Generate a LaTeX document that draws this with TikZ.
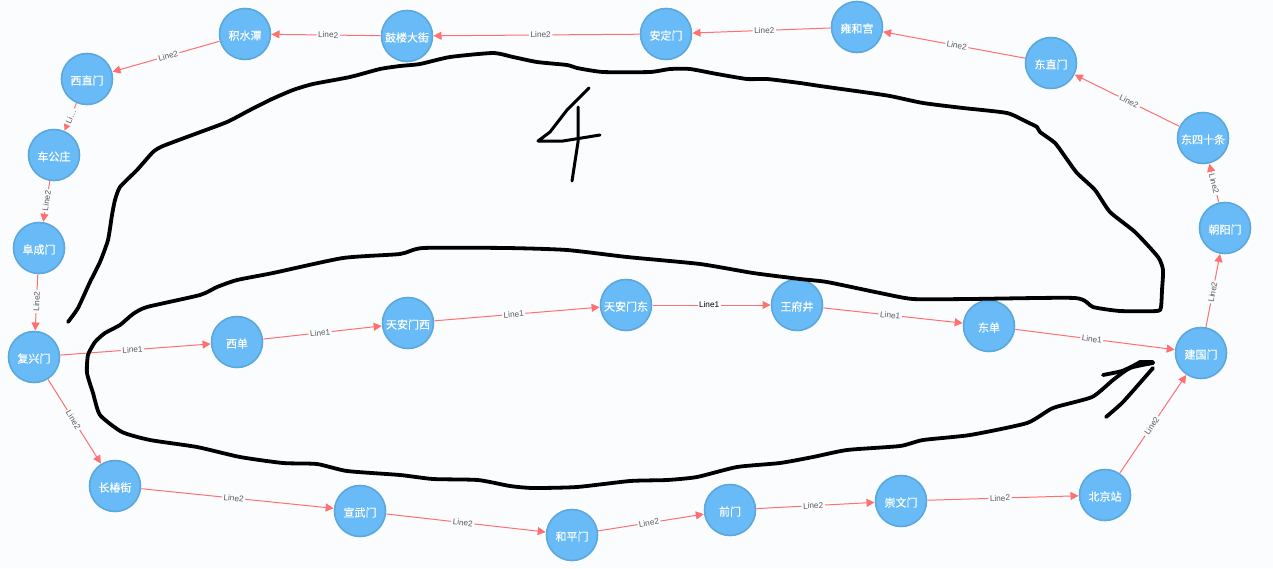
\documentclass[tikz,border=0pt]{standalone}
\usepackage{fontspec}
\setmainfont{Liberation Sans}
\newfontfamily\cjk[FakeBold=0.35]{Noto Sans CJK SC}
\usetikzlibrary{arrows.meta}
\definecolor{bgc}{HTML}{FBFCFE}
\definecolor{nodefill}{HTML}{68BBF6}
\definecolor{nodeline}{HTML}{5CA8DC}
\definecolor{edgec}{HTML}{FF7070}
\definecolor{labelc}{HTML}{5A5A5A}
\tikzset{
  st/.style={circle,minimum size=51pt,inner sep=0pt,outer sep=1pt,fill=nodefill,draw=nodeline,line width=1.6pt,text=white,text height=12.7pt,text depth=1.3pt,font=\cjk\fontsize{11}{11}\selectfont},
  link/.style={draw=edgec,line width=1pt,-{Triangle[length=8pt,width=8pt]}},
  lab/.style={pos=0.48,sloped,fill=bgc,inner sep=1.6pt,text=labelc,font=\fontsize{8.2}{8.2}\selectfont},
  pen/.style={black,line width=3.8pt,line cap=round,line join=round}
}
\begin{document}
\begin{tikzpicture}[x=1pt,y=-1pt]
\path[use as bounding box,fill=bgc] (0,0) rectangle (1273,568);
\node[st] (jishuitan) at (245,34) {积水潭};
\node[st] (gulou) at (407,36) {鼓楼大街};
\node[st] (anding) at (666,34) {安定门};
\node[st] (yonghe) at (857,27) {雍和宫};
\node[st] (dongzhi) at (1051,63) {东直门};
\node[st] (dongsi) at (1203,138) {东四十条};
\node[st] (chaoyang) at (1225,228) {朝阳门};
\node[st] (jianguo) at (1201,353) {建国门};
\node[st] (dongdan) at (989,326) {东单};
\node[st] (wangfu) at (797,305) {王府井};
\node[st] (tiandong) at (626,305) {天安门东};
\node[st] (tianxi) at (408,323) {天安门西};
\node[st] (xidan) at (237,342) {西单};
\node[st] (fuxing) at (34,357) {复兴门};
\node[st] (changchun) at (115,486) {长椿街};
\node[st] (xuanwu) at (360,511) {宣武门};
\node[st] (heping) at (572,535) {和平门};
\node[st] (qian) at (730,510) {前门};
\node[st] (chongwen) at (901,501) {崇文门};
\node[st] (beijing) at (1105,495) {北京站};
\node[st] (fucheng) at (39,248) {阜成门};
\node[st] (chegong) at (54,155) {车公庄};
\node[st] (xizhi) at (87,79) {西直门};
\draw[link] (gulou) -- node[lab]{Line2} (jishuitan);
\draw[link] (anding) -- node[lab]{Line2} (gulou);
\draw[link] (yonghe) -- node[lab]{Line2} (anding);
\draw[link] (dongzhi) -- node[lab]{Line2} (yonghe);
\draw[link] (dongsi) -- node[lab]{Line2} (dongzhi);
\draw[link] (chaoyang) -- node[lab]{Line2} (dongsi);
\draw[link] (jianguo) -- node[lab]{Line2} (chaoyang);
\draw[link] (beijing) -- node[lab]{Line2} (jianguo);
\draw[link] (chongwen) -- node[lab]{Line2} (beijing);
\draw[link] (qian) -- node[lab]{Line2} (chongwen);
\draw[link] (heping) -- node[lab]{Line2} (qian);
\draw[link] (xuanwu) -- node[lab]{Line2} (heping);
\draw[link] (changchun) -- node[lab]{Line2} (xuanwu);
\draw[link] (fuxing) -- node[lab]{Line2} (changchun);
\draw[link] (fucheng) -- node[lab]{Line2} (fuxing);
\draw[link] (chegong) -- node[lab]{Line2} (fucheng);
\draw[link] (xizhi) -- node[lab]{Li…} (chegong);
\draw[link] (jishuitan) -- node[lab]{Line2} (xizhi);
\draw[link] (fuxing) -- node[lab]{Line1} (xidan);
\draw[link] (xidan) -- node[lab]{Line1} (tianxi);
\draw[link] (tianxi) -- node[lab]{Line1} (tiandong);
\draw[link] (tiandong) -- node[lab,text=black]{Line1} (wangfu);
\draw[link] (wangfu) -- node[lab]{Line1} (dongdan);
\draw[link] (dongdan) -- node[lab]{Line1} (jianguo);
% hand-drawn strokes
\draw[pen] plot[smooth,tension=0.35] coordinates {
(68,322) (78,308) (90,282) (100,262) (108,240) (112,215) (115,200) (120,187) (137,170) (153,152) (163,146) (195,134) (227,122) (250,110) (272,99) (293,90) (313,84) (350,77) (380,69) (400,66) (420,64) (450,57) (493,53) (513,57) (537,62) (567,65) (577,68) (603,72) (650,72) (670,69) (690,69) (717,74) (747,79) (767,79) (800,83) (820,86) (863,92) (890,96) (923,103) (963,108) (1007,113) (1027,122) (1037,127) (1040,132) (1055,143) (1066,158) (1077,173) (1095,190) (1110,212) (1135,232) (1158,257) (1163,270) (1162,290) (1161,307) (1157,311) (1120,311) (1093,307) (1075,298) (970,299) (913,299) (880,293) (827,282) (800,279) (753,273) (700,264) (627,257) (567,250) (507,248) (423,248) (400,254) (343,258) (273,273) (237,280) (217,287) (200,295) (147,307) (133,314) (120,325) (105,333) (95,342) (88,355) (87,373) (93,393) (100,415) (122,432) (150,440) (197,447) (240,457) (283,463) (317,464) (347,471) (400,475) (433,479) (478,480) (510,486) (533,488) (577,487) (630,481) (667,480) (697,477) (737,467) (780,463) (813,457) (847,450) (900,446) (923,440) (970,435) (1027,423) (1053,408) (1092,397) (1113,380) (1130,368) (1153,363)};
\draw[pen] plot[smooth,tension=0.3] coordinates {(1103,375) (1122,371) (1138,364) (1153,363)};
\draw[pen] (1128,369) -- (1140,362) -- (1153,362);
\draw[pen] plot[smooth,tension=0.3] coordinates {(1153,368) (1123,402) (1106,417)};
\draw[pen,line width=3pt] (589,88) -- (567,110) -- (550,132) -- (538,141) -- (563,141) -- (600,135);
\draw[pen,line width=3pt] (578,107) -- (578,142) -- (572,181);
\end{tikzpicture}
\end{document}
